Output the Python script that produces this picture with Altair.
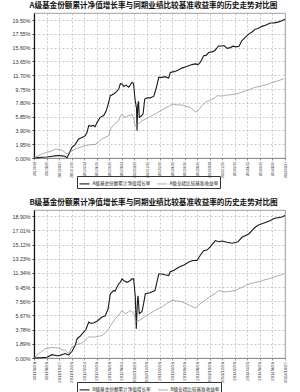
import altair as alt
import pandas as pd

tick_labels = ["2011/6/28", "2011/8/26", "2011/10/27", "2011/12/26", "2012/2/24",
               "2012/4/26", "2012/6/26", "2012/8/24", "2012/10/29", "2012/12/26",
               "2013/2/26", "2013/4/26", "2013/6/26", "2013/8/26", "2013/10/28",
               "2013/12/26", "2014/2/26", "2014/4/25", "2014/6/26", "2014/8/26",
               "2014/10/27"]

# A class: fund cumulative NAV growth (%)
a_fund_t = [0, 0.32, 0.64, 1.04, 1.43, 1.67, 1.91, 2.23, 2.47, 2.63, 2.79, 3.03, 3.27, 3.56, 3.82,
            4.09, 4.22, 4.36, 4.54, 4.76, 4.86, 5.02, 5.28, 5.55, 5.74, 5.95, 6.08, 6.35, 6.53,
            6.75, 6.88, 7.01, 7.17, 7.33, 7.55, 7.73, 7.81, 7.93, 8.05, 8.17, 8.21, 8.27, 8.33,
            8.39, 8.53, 8.69, 8.82, 9.00, 9.24, 9.54, 9.72, 9.94, 10.20, 10.44, 10.73, 10.86,
            11.16, 11.47, 11.79, 12.11, 12.33, 12.59, 12.85, 13.07, 13.25, 13.39, 13.52, 13.71,
            13.92, 14.18, 14.42, 14.72, 14.90, 15.14, 15.38, 15.64, 15.86, 16.10, 16.33, 16.57,
            16.81, 17.11, 17.37, 17.63, 17.85, 18.17, 18.49, 18.83, 19.12, 19.44, 19.76, 20.00]
a_fund_v = [0, 0.05, 0.1, 0.15, 0.25, 0.3, 0.35, 0.3, 0.25, 0.05, 0.6, 1.5, 1.9, 2.7, 2.9,
            3.15, 3.6, 4.56, 4.5, 4.6, 4.4, 5.0, 5.75, 6.0, 6.6, 7.87, 8.8, 9.04, 9.3,
            9.75, 10.5, 10.45, 10.1, 10.3, 10.0, 10.5, 10.7, 10.5, 8.3, 7.0, 3.86, 7.5, 8.0,
            5.75, 5.9, 6.2, 8.3, 8.5, 8.5, 8.7, 9.75, 11.4, 11.4, 11.5, 11.3, 12.1,
            12.2, 12.4, 12.7, 12.9, 13.05, 13.2, 13.3, 13.2, 13.5, 14.0, 14.45, 14.5,
            14.9, 15.0, 15.2, 15.86, 15.8, 15.9, 15.5, 15.6, 15.8, 15.7, 15.8, 16.6,
            17.0, 17.5, 17.8, 18.2, 18.3, 18.6, 18.8, 19.07, 19.1, 19.2, 19.4, 19.6]

# A class: benchmark return (%)
a_bench_t = [0, 0.32, 0.64, 1.04, 1.43, 1.70, 1.99, 2.23, 2.47, 2.63, 2.79, 3.03, 3.35, 3.67, 3.98,
             4.36, 4.62, 4.86, 5.10, 5.42, 5.66, 5.95, 6.08, 6.22, 6.45, 6.75, 6.85, 7.01, 7.17,
             7.33, 7.49, 7.67, 7.81, 7.93, 8.07, 8.21, 8.37, 8.61, 9.00, 9.40, 9.64, 9.94, 10.20,
             10.44, 10.73, 10.92, 11.13, 11.39, 11.79, 12.11, 12.45, 12.67, 12.85, 13.07, 13.39,
             13.65, 13.94, 14.18, 14.42, 14.58, 14.98, 15.38, 15.78, 16.04, 16.41, 16.84, 17.21,
             17.63, 18.01, 18.33, 18.70, 19.04, 19.44, 19.90]
a_bench_v = [0, 0.3, 0.6, 0.8, 1.0, 1.27, 1.2, 1.1, 0.8, 0.56, 0.8, 1.0, 1.3, 1.5, 1.7,
             1.84, 1.9, 1.9, 2.2, 2.7, 2.9, 3.15, 4.0, 4.4, 4.9, 5.27, 5.8, 6.2, 5.8,
             5.75, 6.0, 6.0, 6.2, 5.7, 4.5, 4.8, 4.9, 5.27, 5.6, 6.0, 6.2, 6.5, 6.8,
             7.0, 7.3, 7.5, 7.6, 7.5, 7.5, 7.3, 7.15, 6.8, 6.5, 6.7, 7.4,
             7.87, 8.1, 8.3, 8.5, 8.8, 8.75, 8.9, 8.95, 9.04, 9.2, 9.5, 9.7,
             10.0, 10.1, 10.3, 10.45, 10.7, 10.9, 11.2]

# B class: fund cumulative NAV growth (%)
b_fund_t = [0, 0.64, 1.04, 1.43, 1.83, 2.07, 2.49, 2.76, 3.03, 3.29, 3.43, 3.67, 3.96, 4.14,
            4.36, 4.54, 4.78, 5.02, 5.42, 5.66, 5.90, 6.08, 6.35, 6.45, 6.75, 6.88, 7.01, 7.17,
            7.41, 7.65, 7.81, 7.94, 8.07, 8.15, 8.25, 8.29, 8.39, 8.61, 8.74, 8.87, 9.24, 9.64,
            9.94, 10.20, 10.44, 10.73, 10.86, 11.16, 11.53, 11.95, 12.33, 12.67, 12.99, 13.25,
            13.52, 13.78, 14.02, 14.45, 14.74, 14.98, 15.38, 15.78, 16.25, 16.57, 17.11, 17.37,
            17.63, 17.85, 18.17, 18.49, 18.80, 19.12, 19.44, 19.76, 20.00]
b_fund_v = [0, 0.05, 0.1, 0.44, 0.3, 0.35, 0.6, 0.4, 0.9, 1.7, 2.57, 2.9, 3.46, 3.8,
            4.8, 4.6, 4.7, 4.9, 5.46, 5.6, 6.5, 8.56, 9.0, 8.9, 9.9, 10.1, 10.55, 10.3,
            10.1, 10.3, 10.55, 10.55, 8.2, 3.9, 7.8, 8.3, 5.9, 6.2, 7.3, 8.56, 8.7, 9.0,
            11.2, 11.2, 11.1, 11.0, 11.5, 11.7, 12.1, 12.4, 12.8, 13.0, 13.0, 13.7,
            14.3, 14.4, 14.8, 15.66, 15.5, 15.6, 15.44, 15.3, 15.5, 16.1, 16.54, 17.0,
            17.44, 17.7, 17.9, 18.1, 18.3, 18.6, 18.7, 18.8, 19.0]

# B class: benchmark return (%)
b_bench_t = [0, 0.32, 0.64, 0.90, 1.43, 1.97, 2.23, 2.49, 2.76, 3.03, 3.43, 3.82, 4.36, 4.86,
             5.42, 5.66, 5.95, 6.22, 6.48, 6.69, 7.01, 7.25, 7.49, 7.67, 7.94, 8.15, 8.37, 8.61,
             9.00, 9.40, 9.80, 10.20, 10.60, 11.00, 11.39, 11.79, 12.19, 12.45, 12.85, 13.07,
             13.39, 13.78, 14.18, 14.42, 14.72, 15.22, 15.62, 16.04, 16.41, 16.84, 17.21, 17.63,
             18.01, 18.33, 18.70, 19.12, 19.52, 19.90]
b_bench_v = [0, 0.5, 0.9, 1.24, 1.4, 1.33, 1.1, 1.0, 0.6, 1.5, 1.8, 2.0, 2.8, 2.8,
             3.0, 3.3, 3.9, 4.6, 5.23, 5.6, 6.35, 5.9, 6.1, 6.35, 6.0, 4.8, 5.0, 5.23,
             5.7, 6.1, 6.5, 6.8, 7.3, 7.7, 7.6, 7.5, 7.2, 7.0, 6.66, 7.0,
             7.45, 7.9, 8.34, 8.6, 9.0, 8.8, 8.9, 9.0, 9.3, 9.67, 9.9, 10.1,
             10.2, 10.4, 10.55, 10.8, 11.0, 11.2]

FONT = "Noto Sans CJK SC"
label_array = "[" + ",".join("'" + d + "'" for d in tick_labels) + "]"


def panel(title, fund_name, bench_name, ft, fv, bt, bv, step, ymax, height, legend_y, lab_size):
    df = pd.DataFrame({
        "t": ft + bt,
        "v": fv + bv,
        "s": [fund_name] * len(ft) + [bench_name] * len(bt),
    })
    yvals = [round(step * i, 2) for i in range(11)]
    return alt.Chart(df).mark_line(interpolate="linear").encode(
        x=alt.X("t:Q", title=None,
                scale=alt.Scale(domain=[0, 20], nice=False, zero=False),
                axis=alt.Axis(values=list(range(21)),
                              labelExpr=label_array + "[datum.value]",
                              labelAngle=270, labelFontSize=lab_size, labelColor="#333",
                              labelPadding=1.5, tickSize=2, tickColor="#888",
                              domainColor="#888", domainWidth=0.8,
                              grid=True, gridColor="#aaa", gridDash=[2, 2],
                              gridWidth=0.6, labelFont="Liberation Sans")),
        y=alt.Y("v:Q", title=None,
                scale=alt.Scale(domain=[0, ymax], nice=False, zero=True),
                axis=alt.Axis(values=yvals,
                              labelExpr="format(datum.value, '.2f') + '%'",
                              labelFontSize=5.3, labelColor="#333", labelPadding=2,
                              tickSize=2, tickColor="#333", domainColor="#111",
                              domainWidth=1.2, grid=True, gridColor="#aaa",
                              gridDash=[2, 2], gridWidth=0.6, labelFont="Liberation Sans")),
        color=alt.Color("s:N",
                        scale=alt.Scale(domain=[fund_name, bench_name],
                                        range=["#1a1a1a", "#8a8a8a"]),
                        legend=alt.Legend(title=None, orient="none", legendX=43,
                                          legendY=legend_y, direction="horizontal",
                                          symbolType="stroke", symbolSize=100,
                                          symbolStrokeWidth=1, labelFontSize=4.6,
                                          labelFont=FONT, labelColor="#222",
                                          columnPadding=5, labelOffset=2,
                                          strokeColor="#333", padding=1.5)),
        strokeWidth=alt.StrokeWidth("s:N",
                                    scale=alt.Scale(domain=[fund_name, bench_name],
                                                    range=[1.1, 0.7]),
                                    legend=None),
    ).properties(
        width=251, height=height,
        title=alt.TitleParams(title, fontSize=7.6, font=FONT, fontWeight="bold",
                              anchor="middle", dx=-6, offset=3, color="#111"),
    )


top = panel("A级基金份额累计净值增长率与同期业绩比较基准收益率的历史走势对比图",
            "A级基金份额累计净值增长率", "A级业绩比较基准收益率",
            a_fund_t, a_fund_v, a_bench_t, a_bench_v, 1.95, 20.49, 145, 163, 3.2)
bottom = panel("B级基金份额累计净值增长率与同期业绩比较基准收益率的历史走势对比图",
               "B级基金份额累计净值增长率", "B级业绩比较基准收益率",
               b_fund_t, b_fund_v, b_bench_t, b_bench_v, 1.89, 19.74, 148, 172, 4.2)

chart = alt.vconcat(top, bottom, spacing=10).resolve_scale(
    color="independent", strokeWidth="independent", x="independent", y="independent"
).properties(
    padding={"left": 11, "top": 2, "right": 2, "bottom": 0},
    background="white",
).configure_view(stroke="#888", strokeWidth=0.8)

chart.save("out.html", embed_options={"renderer": "svg", "actions": False})
